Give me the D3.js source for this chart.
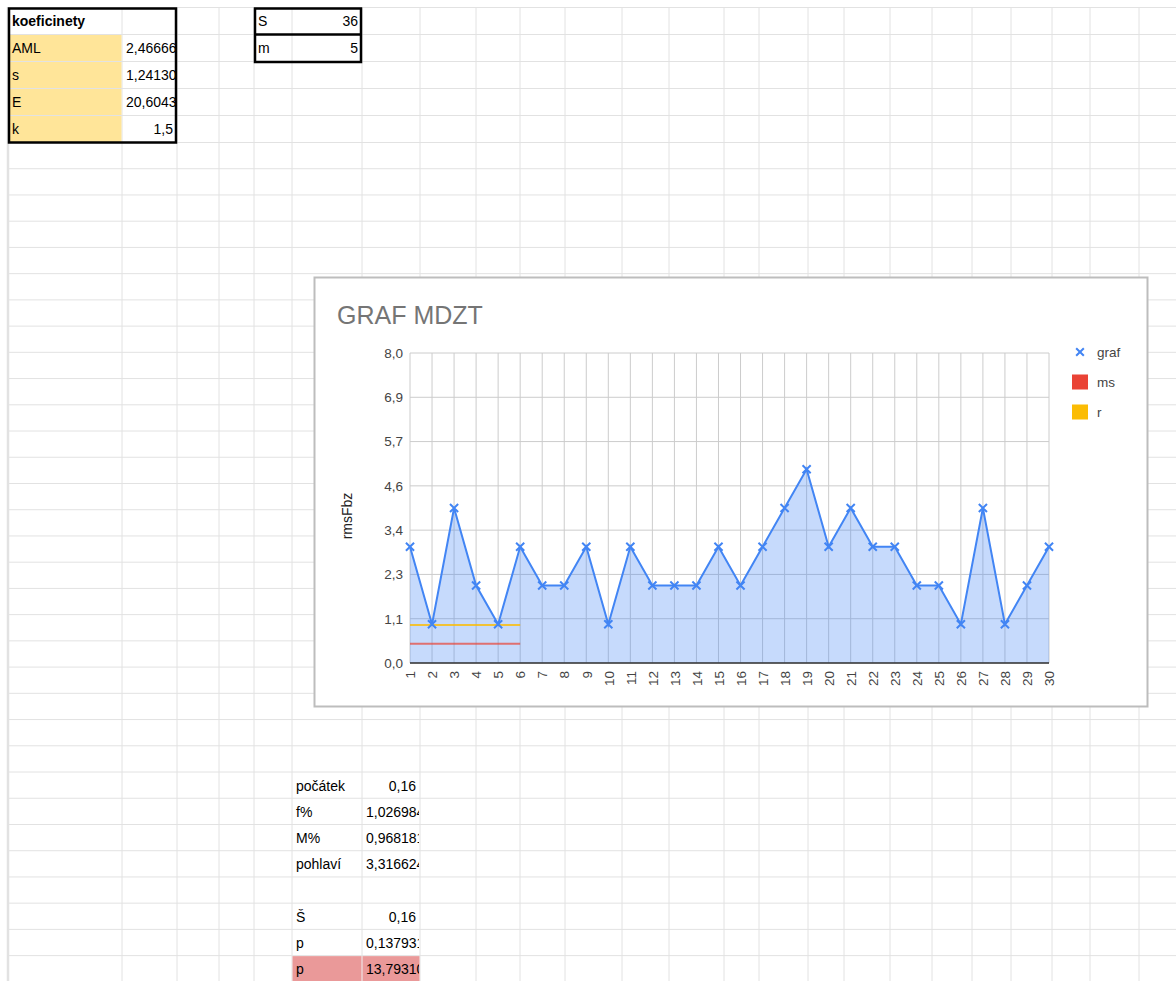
<!DOCTYPE html>
<html>
<head>
<meta charset="utf-8">
<script src="https://cdn.jsdelivr.net/npm/d3@7"></script>
<style>
  body { margin: 0; background: #fff; }
  svg { display: block; font-family: "Liberation Sans", Arial, sans-serif; }
</style>
</head>
<body>
<svg width="1176" height="981"></svg>
<script>
// chart data
var categories = ["1","2","3","4","5","6","7","8","9","10","11","12","13","14","15",
                  "16","17","18","19","20","21","22","23","24","25","26","27","28","29","30"];
var grafValues = [3,1,4,2,1,3,2,2,3,1,3,2,2,2,3,2,3,4,5,3,4,3,3,2,2,1,4,1,2,3];
var msValues = [0.5,0.5,0.5,0.5,0.5,0.5];
var rValues = [0.98,0.98,0.98,0.98,0.98,0.98];
var yTickValues = [0, 8/7, 16/7, 24/7, 32/7, 40/7, 48/7, 8];
var legendNames = ["graf","ms","r"];

// spreadsheet cells
var koefLabels = ["AML","s","E","k"];
var koefValues = ["2,466666667","1,241305","20,6043478","1,5"];
var smLabels = ["S","m"];
var smValues = ["36","5"];
var lowerLabels = ["počátek","f%","M%","pohlaví","","Š","p","p"];
var lowerValues = ["0,16","1,026984127","0,968181818","3,316624790","","0,16","0,137931034","13,79310345"];

var svg = d3.select("svg"),
    width = +svg.attr("width"),
    height = +svg.attr("height");

var czech = d3.formatLocale({decimal: ",", thousands: " ", grouping: [3], currency: ["", " Kč"]});
var fmt1 = czech.format(".1f");

// ---- sheet grid ----
var colEdges = [8,122,177,219,254,292,362,420,476,520,565,622,669,724,759,808,844,890,932,972,1011,1052,1090,1139,1190];
var rowEdges = [7.5];
for (var i = 0; i < 5; i++) rowEdges.push(rowEdges[rowEdges.length-1] + 27);
while (rowEdges[rowEdges.length-1] < height) rowEdges.push(rowEdges[rowEdges.length-1] + 26.23);

var grid = svg.append("g");
grid.selectAll("line.h").data(rowEdges).enter().append("line")
    .attr("x1", 8).attr("x2", width)
    .attr("y1", function(d){ return d; }).attr("y2", function(d){ return d; })
    .attr("stroke", "#e2e2e2").attr("stroke-width", 1);
grid.selectAll("line.v").data(colEdges).enter().append("line")
    .attr("x1", function(d){ return d; }).attr("x2", function(d){ return d; })
    .attr("y1", 7).attr("y2", height)
    .attr("stroke", "#e2e2e2").attr("stroke-width", function(d, i){ return i == 0 ? 2.5 : 1; });

var defs = svg.append("defs");
var clipId = 0;
function cell(col, row, txt, opts) {
  opts = opts || {};
  var x0 = colEdges[col], x1 = colEdges[col+1], y0 = rowEdges[row], y1 = rowEdges[row+1];
  if (opts.fill) {
    svg.append("rect").attr("x", x0+0.5).attr("y", y0+0.5).attr("width", x1-x0-1).attr("height", y1-y0-1)
       .attr("fill", opts.fill);
  }
  if (!txt) return;
  var id = "c" + (clipId++);
  defs.append("clipPath").attr("id", id).append("rect")
      .attr("x", x0).attr("y", y0).attr("width", x1-x0-1).attr("height", y1-y0);
  var t = svg.append("text")
      .attr("clip-path", "url(#" + id + ")")
      .attr("y", y0 + 18.5)
      .attr("font-size", 14)
      .attr("font-weight", opts.bold ? "bold" : "normal")
      .attr("fill", "#000")
      .text(txt);
  var w = t.node().getComputedTextLength();
  if (opts.right && w < x1 - x0 - 8) {
    t.attr("x", x1 - 4).attr("text-anchor", "end");
  } else {
    t.attr("x", x0 + 4);
  }
}

// koeficinety table
cell(0, 0, "koeficinety", {bold: true});
koefLabels.forEach(function(d, i){ cell(0, i+1, d, {fill: "#ffe599"}); });
koefValues.forEach(function(d, i){ cell(1, i+1, d, {right: true}); });
svg.append("rect").attr("x", 9).attr("y", 8.5).attr("width", 167).attr("height", 134)
   .attr("fill", "none").attr("stroke", "#000").attr("stroke-width", 2.5);

// S / m table
smLabels.forEach(function(d, i){ cell(4, i, d); });
smValues.forEach(function(d, i){ cell(5, i, d, {right: true}); });
svg.append("rect").attr("x", 255).attr("y", 8.5).attr("width", 106).attr("height", 53.5)
   .attr("fill", "none").attr("stroke", "#000").attr("stroke-width", 2.5);
svg.append("line").attr("x1", 255).attr("x2", 361).attr("y1", rowEdges[1]).attr("y2", rowEdges[1])
   .attr("stroke", "#000").attr("stroke-width", 2.5);

// lower table
lowerLabels.forEach(function(d, i){
  cell(5, 29+i, d, {fill: i == 7 ? "#ea9999" : null});
});
lowerValues.forEach(function(d, i){
  cell(6, 29+i, d, {right: true, fill: i == 7 ? "#ea9999" : null});
});

// ---- chart ----
var chart = svg.append("g");
chart.append("rect").attr("x", 314.5).attr("y", 277.5).attr("width", 833).attr("height", 429)
     .attr("fill", "#fff").attr("stroke", "#bdbdbd").attr("stroke-width", 2);

chart.append("text").attr("x", 337).attr("y", 324)
     .attr("font-size", 25).attr("fill", "#757575").text("GRAF MDZT");

var x = d3.scalePoint().domain(categories).range([410, 1049]).padding(0);
var y = d3.scaleLinear().domain([0, 8]).range([663, 353]);

// gridlines
chart.append("g").selectAll("line").data(yTickValues).enter().append("line")
     .attr("x1", 410).attr("x2", 1049)
     .attr("y1", function(d){ return y(d); }).attr("y2", function(d){ return y(d); })
     .attr("stroke", "#cccccc").attr("stroke-width", 1);
chart.append("g").selectAll("line").data(categories).enter().append("line")
     .attr("x1", function(d){ return x(d); }).attr("x2", function(d){ return x(d); })
     .attr("y1", y(8)).attr("y2", y(0))
     .attr("stroke", "#cccccc").attr("stroke-width", 1);

// axes
var yAxis = chart.append("g").attr("transform", "translate(410,0)")
     .call(d3.axisLeft(y).tickValues(yTickValues).tickFormat(fmt1).tickSize(0).tickPadding(7));
yAxis.select(".domain").remove();
yAxis.selectAll("text").attr("font-size", 13.5).attr("fill", "#444")
     .attr("font-family", "Liberation Sans, Arial, sans-serif");

var xAxis = chart.append("g").attr("transform", "translate(0,663)")
     .call(d3.axisBottom(x).tickSize(0).tickPadding(0));
xAxis.select(".domain").remove();
xAxis.selectAll("text")
     .attr("font-size", 13.5).attr("fill", "#444")
     .attr("font-family", "Liberation Sans, Arial, sans-serif")
     .attr("text-anchor", "end")
     .attr("dy", "0.35em")
     .attr("transform", "translate(0,8) rotate(-90)")
     .attr("y", 0).attr("x", 0);

chart.append("text")
     .attr("transform", "translate(352,516) rotate(-90)")
     .attr("text-anchor", "middle").attr("font-size", 14).attr("fill", "#222")
     .text("rmsFbz");

// area + line for graf
var area = d3.area()
    .x(function(d, i){ return x(categories[i]); })
    .y0(y(0))
    .y1(function(d){ return y(d); });
var line = d3.line()
    .x(function(d, i){ return x(categories[i]); })
    .y(function(d){ return y(d); });

chart.append("path").datum(grafValues).attr("d", area)
     .attr("fill", "#4285f4").attr("fill-opacity", 0.3);

chart.append("path").datum(msValues).attr("d", line)
     .attr("fill", "none").attr("stroke", "#ea4335").attr("stroke-opacity", 0.7).attr("stroke-width", 2);
chart.append("path").datum(rValues).attr("d", line)
     .attr("fill", "none").attr("stroke", "#fbbc04").attr("stroke-opacity", 0.8).attr("stroke-width", 2);

chart.append("line").attr("x1", 410).attr("x2", 1049).attr("y1", y(0)).attr("y2", y(0))
     .attr("stroke", "#333").attr("stroke-width", 1.5);

chart.append("path").datum(grafValues).attr("d", line)
     .attr("fill", "none").attr("stroke", "#4285f4").attr("stroke-width", 2);

var xSym = d3.symbol().type(d3.symbolX).size(45);
chart.append("g").selectAll("path").data(grafValues).enter().append("path")
     .attr("d", xSym)
     .attr("transform", function(d, i){ return "translate(" + x(categories[i]) + "," + y(d) + ")"; })
     .attr("fill", "none").attr("stroke", "#4285f4").attr("stroke-width", 2);

// legend
var legendColors = ["#4285f4","#ea4335","#fbbc04"];
var leg = chart.append("g").selectAll("g").data(legendNames).enter().append("g")
     .attr("transform", function(d, i){ return "translate(1080," + (352 + i*30) + ")"; });
leg.each(function(d, i){
  var g = d3.select(this);
  if (i == 0) {
    g.append("path").attr("d", d3.symbol().type(d3.symbolX).size(40))
     .attr("fill", "none").attr("stroke", legendColors[i]).attr("stroke-width", 2);
  } else {
    g.append("rect").attr("x", -8).attr("y", -7.5).attr("width", 16).attr("height", 15)
     .attr("fill", legendColors[i]);
  }
  g.append("text").attr("x", 17).attr("y", 5).attr("font-size", 13.5).attr("fill", "#444").text(d);
});
</script>
</body>
</html>
